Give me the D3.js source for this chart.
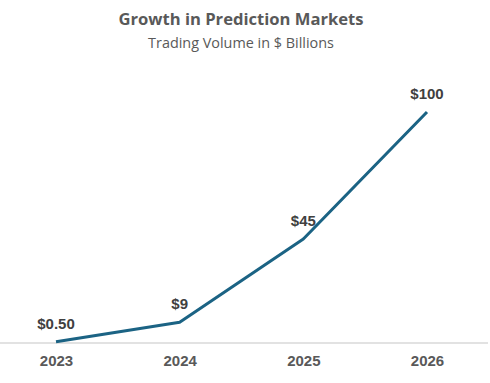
<!DOCTYPE html>
<html lang="en">
<head>
  <meta charset="UTF-8" />
  <title>Growth in Prediction Markets</title>
  <script src="https://d3js.org/d3.v7.min.js"></script>
  <style>
    body { margin: 0; background: #fff; }
    svg { display: block; }
    .title { font-family: "Open Sans", sans-serif; font-weight: 700; font-size: 16.6px; fill: #595959; }
    .subtitle { font-family: "Open Sans", sans-serif; font-size: 14.4px; fill: #595959; }
    .tick text, .label { font-family: "Liberation Sans", Arial, sans-serif; font-weight: 700; font-size: 15px; fill: #404040; }
    .tick text { fill: #595959; }
  </style>
</head>
<body>
  <svg width="490" height="383"></svg>
  <script>
    const years = ["2023", "2024", "2025", "2026"];
    const volume = [0.5, 9, 45, 100];
    const valueLabels = ["$0.50", "$9", "$45", "$100"];

    const width = 490, height = 383;
    const svg = d3.select("svg");

    const x = d3.scalePoint().domain(years).range([56, 427]);
    const y = d3.scaleLinear().domain([0, 100]).range([343, 112]);

    svg.append("text").attr("class", "title")
      .attr("x", 241).attr("y", 25).attr("text-anchor", "middle")
      .text("Growth in Prediction Markets");
    svg.append("text").attr("class", "subtitle")
      .attr("x", 241).attr("y", 48).attr("text-anchor", "middle")
      .text("Trading Volume in $ Billions");

    // baseline
    svg.append("line")
      .attr("x1", 0).attr("x2", 488)
      .attr("y1", y(0)).attr("y2", y(0))
      .attr("stroke", "#d9d9d9").attr("stroke-width", 1.5);

    const xAxis = svg.append("g")
      .attr("transform", `translate(0,${y(0)})`)
      .call(d3.axisBottom(x).tickSize(0).tickPadding(12));
    xAxis.select(".domain").remove();

    const data = years.map((d, i) => ({ year: d, v: volume[i], label: valueLabels[i] }));

    svg.append("path")
      .datum(data)
      .attr("fill", "none")
      .attr("stroke", "#1b6384")
      .attr("stroke-width", 3)
      .attr("stroke-linejoin", "round")
      .attr("d", d3.line().x(d => x(d.year)).y(d => y(d.v)));

    svg.selectAll(".label")
      .data(data)
      .join("text")
      .attr("class", "label")
      .attr("text-anchor", "middle")
      .attr("x", d => x(d.year))
      .attr("y", d => y(d.v) - 13)
      .text(d => d.label);
  </script>
</body>
</html>
